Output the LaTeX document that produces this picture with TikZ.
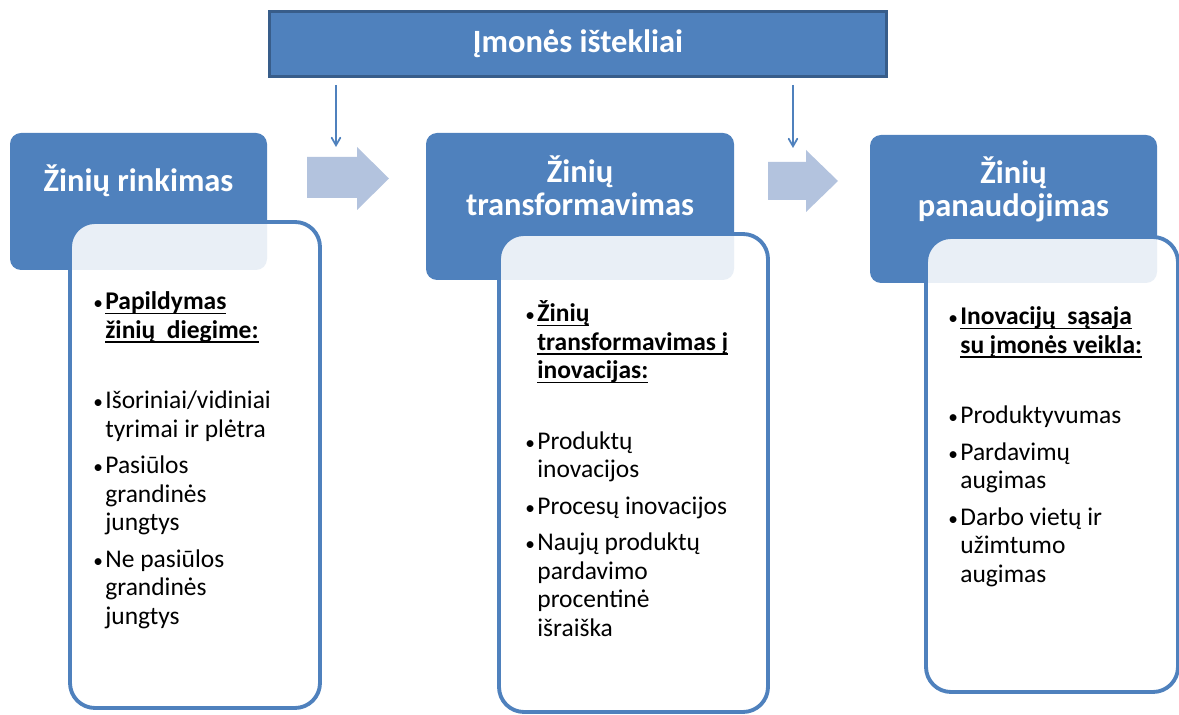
\documentclass[tikz,border=0pt]{standalone}
\usepackage{fontspec}
\setmainfont{Carlito}
\usepackage{tikz}
\usetikzlibrary{arrows,positioning}

\definecolor{accblue}{HTML}{4F81BD}
\definecolor{darkblue}{HTML}{385D8A}
\definecolor{paleblue}{HTML}{B3C3DE}

\newcommand{\undl}[1]{\setbox0\hbox{#1}\rlap{\rule[-2.6pt]{\wd0}{0.9pt}}\box0}
\newcommand{\bul}{\par\hangindent=6.8pt\hangafter=1\noindent
  \makebox[6.8pt][l]{\fontsize{11}{11}\selectfont\textbullet}}

\tikzset{
  banner/.style={draw=darkblue, line width=1.7pt, fill=accblue, text=white,
    font=\bfseries\fontsize{18.5}{22}\selectfont, minimum width=12.34cm,
    minimum height=1.3cm, inner sep=0pt},
  head/.style={fill=accblue, rounded corners=0.22cm, inner sep=0pt},
  headtxt/.style={text=white, font=\bfseries\fontsize{18.5}{18.5}\selectfont, align=center},
  body/.style={draw=accblue, line width=2.2pt, fill=white, fill opacity=0.88,
    rounded corners=0.5cm, inner sep=0pt},
  bodytxt/.style={anchor=north west, inner sep=0pt, text width=4.7cm,
    font=\fontsize{14.5}{16.2}\selectfont,
    execute at begin node={\leftskip=0pt\rightskip=0pt plus 1fil
      \parfillskip=0pt plus 1fil\spaceskip=0pt\xspaceskip=0pt}},
  res/.style={draw=accblue, line width=1pt, -angle 60, shorten <=0.14cm},
  bigarrow/.style={fill=paleblue}
}

\begin{document}
\begin{tikzpicture}
    \useasboundingbox (0,0) rectangle (23.58,-14.3);

    % top banner and the two thin arrows
    \node[banner] (ist) at (11.56,-0.88) {Įmonės ištekliai};
    \coordinate (r1) at (6.72,-2.94);
    \coordinate (r2) at (15.86,-2.96);
    \draw[res] (ist.south -| r1) -- (r1);
    \draw[res] (ist.south -| r2) -- (r2);

    % block arrows
    \fill[bigarrow] (6.14,-3.14) -- (7.14,-3.14) -- (7.14,-2.94) -- (7.78,-3.57)
      -- (7.14,-4.2) -- (7.14,-3.96) -- (6.14,-3.96) -- cycle;
    \fill[bigarrow] (15.36,-3.24) -- (16.12,-3.24) -- (16.12,-3.0) -- (16.76,-3.62)
      -- (16.12,-4.24) -- (16.12,-4.0) -- (15.36,-4.0) -- cycle;

    % Ziniu rinkimas
    \node[head, minimum width=5.14cm, minimum height=2.74cm] (h1) at (2.77,-4.03) {};
    \node[headtxt] (t1) at ([yshift=-0.96cm]h1.north) {Žinių rinkimas};
    \node[body, minimum width=5.0cm, minimum height=9.72cm] (b1) at (3.9,-9.3) {};
    \node[bodytxt] (l1) at ([xshift=0.5cm,yshift=-1.22cm]b1.north west) {%
      \bul\strut\undl{\textbf{Papildymas}}\newline
      \undl{\textbf{žinių\ \ diegime:}}\par\vspace{24pt}
      \bul Išoriniai/vidiniai\newline tyrimai ir plėtra\par\vspace{4.5pt}
      \bul Pasiūlos\newline grandinės\newline jungtys\par\vspace{4.5pt}
      \bul Ne pasiūlos\newline grandinės\newline jungtys\par};

    % Ziniu transformavimas
    \node[head, minimum width=6.16cm, minimum height=2.94cm] (h2) at (11.6,-4.13) {};
    \node[headtxt] (t2) at ([yshift=-1.06cm]h2.north) {Žinių\\transformavimas};
    \node[body, minimum width=5.38cm, minimum height=9.56cm] (b2) at (12.67,-9.46) {};
    \node[bodytxt] (l2) at ([xshift=0.56cm,yshift=-1.22cm]b2.north west) {%
      \bul\strut\undl{\textbf{Žinių}}\newline
      \undl{\textbf{transformavimas į}}\newline
      \undl{\textbf{inovacijas:}}\par\vspace{24pt}
      \bul Produktų\newline inovacijos\par\vspace{4.5pt}
      \bul Procesų inovacijos\par\vspace{4.5pt}
      \bul Naujų produktų\newline pardavimo\newline procentinė\newline išraiška\par};

    % Ziniu panaudojimas
    \node[head, minimum width=5.74cm, minimum height=2.96cm] (h3) at (20.27,-4.18) {};
    \node[headtxt] (t3) at ([yshift=-1.09cm]h3.north) {Žinių\\panaudojimas};
    \node[body, minimum width=5.04cm, minimum height=9.1cm] (b3) at (21.04,-9.29) {};
    \node[bodytxt] (l3) at ([xshift=0.48cm,yshift=-1.22cm]b3.north west) {%
      \bul\strut\undl{\textbf{Inovacijų\ \ sąsaja}}\newline
      \undl{\textbf{su įmonės veikla:}}\par\vspace{24pt}
      \bul Produktyvumas\par\vspace{4.5pt}
      \bul Pardavimų\newline augimas\par\vspace{4.5pt}
      \bul Darbo vietų ir\newline užimtumo\newline augimas\par};
\end{tikzpicture}
\end{document}
